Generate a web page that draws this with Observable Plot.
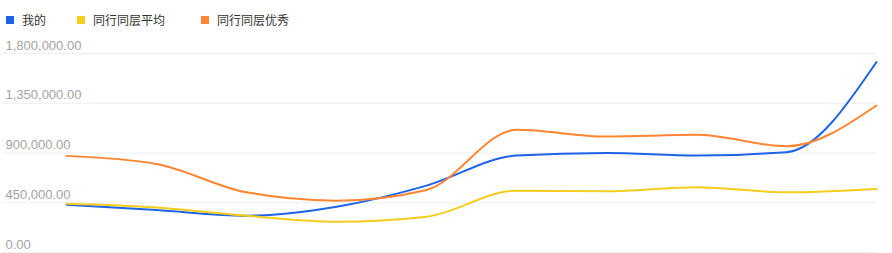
<!DOCTYPE html>
<html>
<head>
<meta charset="utf-8">
<script src="https://cdn.jsdelivr.net/npm/d3@7"></script>
<script src="https://cdn.jsdelivr.net/npm/@observablehq/plot@0.6"></script>
<style>
  html, body { margin: 0; padding: 0; background: #fff; }
  #wrap { position: relative; width: 892px; height: 253px; overflow: hidden; }
  #legend { position: absolute; left: 0; top: 11px; display: flex; font-family: "Noto Sans CJK SC", "Noto Sans", sans-serif; font-size: 12px; color: #333; }
  .item { display: flex; align-items: center; position: absolute; white-space: nowrap; }
  .sw { width: 8px; height: 8px; margin-right: 8px; }
  #chart { position: absolute; left: 0; top: 0; }
</style>
</head>
<body>
<div id="wrap">
  <div id="chart"></div>
  <div id="legend"></div>
</div>
<script>
const categories = [1, 2, 3, 4, 5, 6, 7, 8, 9, 10];
const seriesNames = ["我的", "同行同层平均", "同行同层优秀"];
const seriesColors = ["#1f63e6", "#f5cd1f", "#ff8533"];
const mine    = [432000, 384000, 333000, 414000, 605000, 877000, 901000, 877000, 907000, 1723000];
const average = [441000, 408000, 333000, 278000, 324000, 559000, 553000, 590000, 544000, 575000];
const best    = [874000, 801000, 544000, 469000, 566000, 1110000, 1049000, 1064000, 961000, 1330000];
const yTicks = [0, 450000, 900000, 1350000, 1800000];

const seriesValues = [mine, average, best];
const data = [];
seriesNames.forEach((name, s) => {
  categories.forEach((c, i) => data.push({series: name, x: c, y: seriesValues[s][i]}));
});

const fmt = d3.format(",.2f");

const plot = Plot.plot({
  width: 892,
  height: 253,
  marginTop: 53,
  marginBottom: 1,
  marginLeft: 3,
  marginRight: 16,
  style: { fontFamily: "'Liberation Sans', Arial, sans-serif", background: "transparent" },
  x: { domain: [categories[0], categories[categories.length - 1]], range: [66, 876], axis: null },
  y: { domain: [0, 1800000] },
  color: { domain: seriesNames, range: seriesColors },
  marks: [
    Plot.gridY(yTicks, { stroke: "#eceef5", strokeOpacity: 1, strokeWidth: 1 }),
    Plot.axisY(yTicks, {
      anchor: "left",
      tickSize: 0,
      tickPadding: 0,
      textAnchor: "start",
      dx: 2,
      dy: -8,
      fontSize: 13,
      fill: "#a3a3a3",
      tickFormat: fmt,
      label: null
    }),
    Plot.line(data, {
      x: "x", y: "y", z: "series", stroke: "series",
      strokeWidth: 2, curve: "monotone-x"
    })
  ]
});
document.getElementById("chart").appendChild(plot);

const legend = document.getElementById("legend");
const lefts = [6, 77, 201];
seriesNames.forEach((name, i) => {
  const item = document.createElement("div");
  item.className = "item";
  item.style.left = lefts[i] + "px";
  const sw = document.createElement("span");
  sw.className = "sw";
  sw.style.background = seriesColors[i];
  const t = document.createElement("span");
  t.textContent = name;
  item.appendChild(sw);
  item.appendChild(t);
  legend.appendChild(item);
});
</script>
</body>
</html>
